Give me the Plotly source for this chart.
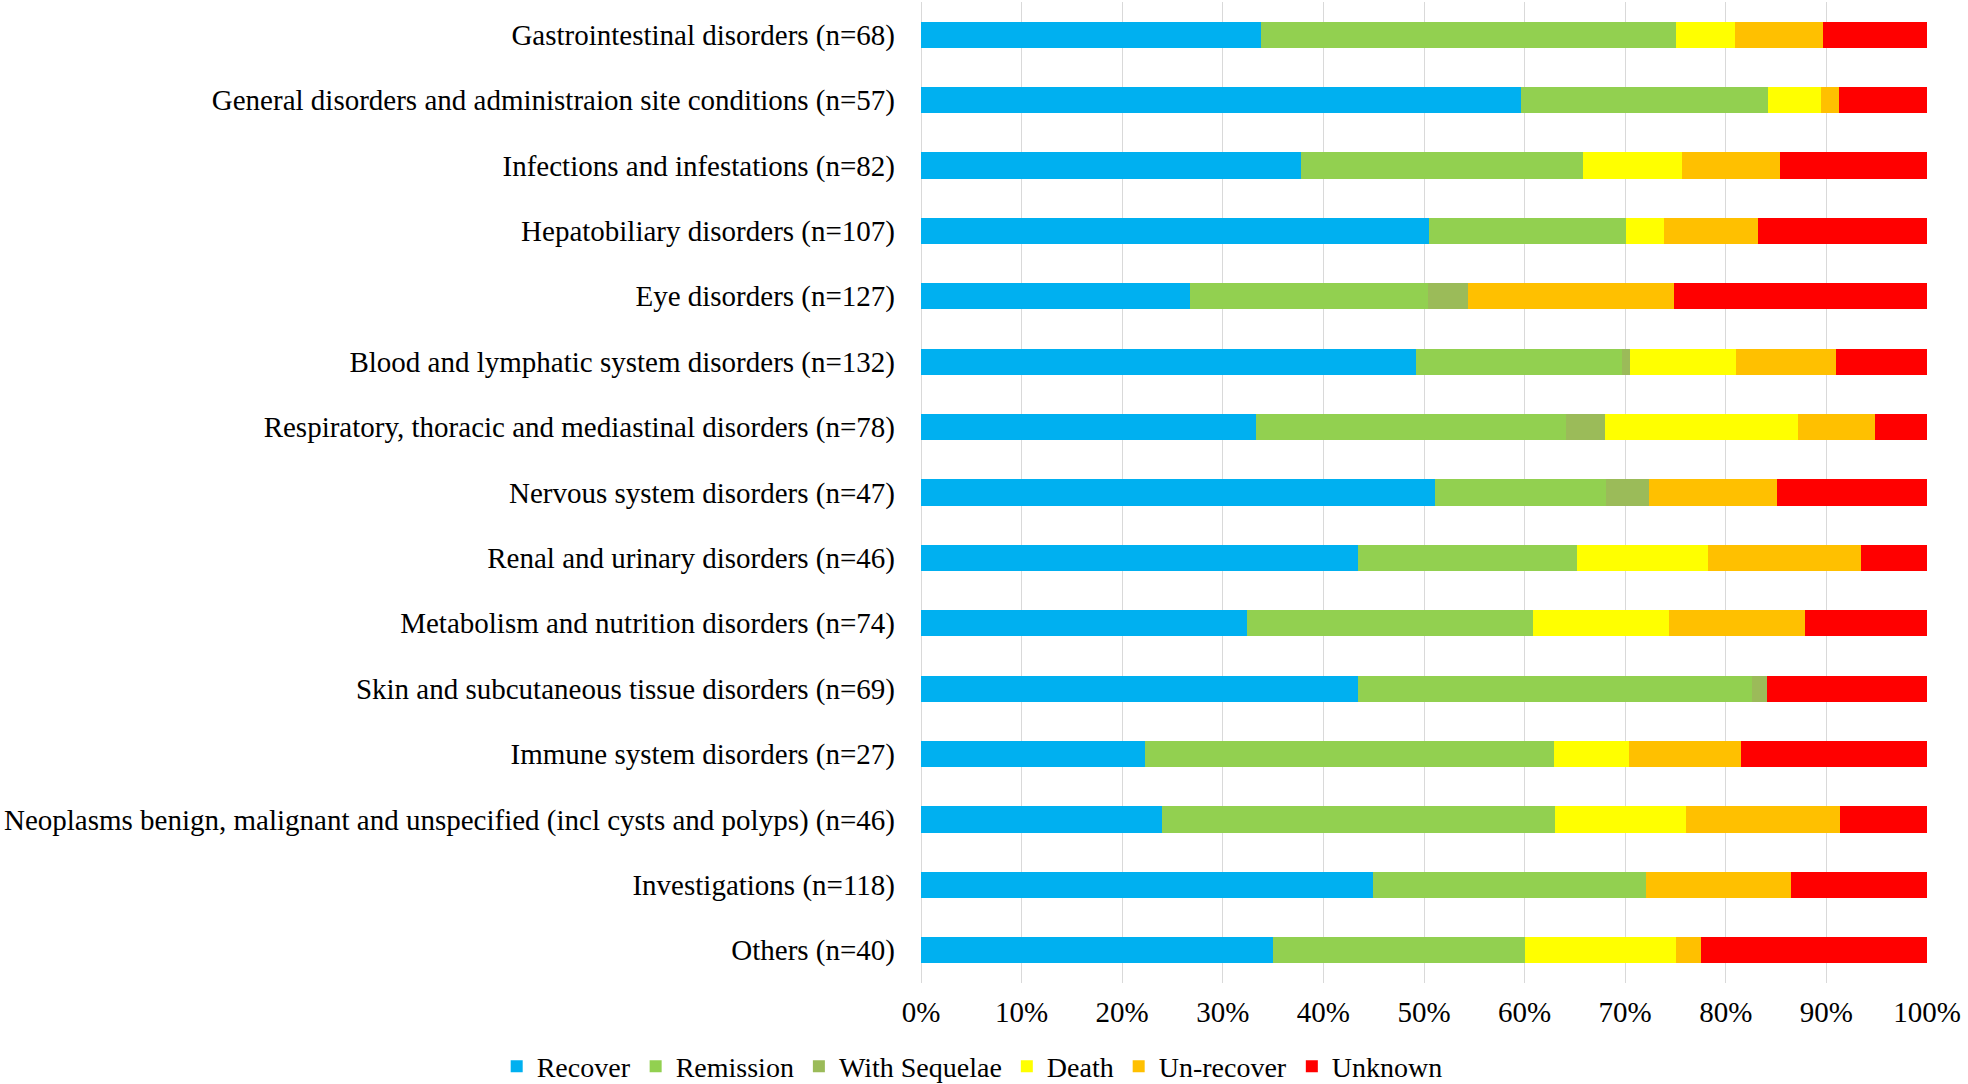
import plotly.graph_objects as go

categories = [
    "Gastrointestinal disorders (n=68)",
    "General disorders and administraion site conditions (n=57)",
    "Infections and infestations (n=82)",
    "Hepatobiliary disorders (n=107)",
    "Eye disorders (n=127)",
    "Blood and lymphatic system disorders (n=132)",
    "Respiratory, thoracic and mediastinal disorders (n=78)",
    "Nervous system disorders (n=47)",
    "Renal and urinary disorders (n=46)",
    "Metabolism and nutrition disorders (n=74)",
    "Skin and subcutaneous tissue disorders (n=69)",
    "Immune system disorders (n=27)",
    "Neoplasms benign, malignant and unspecified (incl cysts and polyps) (n=46)",
    "Investigations (n=118)",
    "Others (n=40)",
]

# case counts per outcome (bars normalised to 100%)
recover       = [23, 34, 31, 54, 34, 65, 26, 24, 20, 24, 30, 6, 11, 53, 14]
remission     = [28, 14, 23, 21, 30, 27, 24, 8, 10, 21, 27, 11, 18, 32, 10]
with_sequelae = [0, 0, 0, 0, 5, 1, 3, 2, 0, 0, 1, 0, 0, 0, 0]
death         = [4, 3, 8, 4, 0, 14, 15, 0, 6, 10, 0, 2, 6, 0, 6]
un_recover    = [6, 1, 8, 10, 26, 13, 6, 6, 7, 10, 0, 3, 7, 17, 1]
unknown       = [7, 5, 12, 18, 32, 12, 4, 7, 3, 9, 11, 5, 4, 16, 9]

series = [
    ("Recover", recover, "#00B0F0"),
    ("Remission", remission, "#92D050"),
    ("With Sequelae", with_sequelae, "#9BBB59"),
    ("Death", death, "#FFFF00"),
    ("Un-recover", un_recover, "#FFC000"),
    ("Unknown", unknown, "#FF0000"),
]

x_ticks = list(range(0, 101, 10))

FONT = "Liberation Serif, Times New Roman, serif"

fig = go.Figure()
for name, vals, color in series:
    fig.add_trace(go.Bar(
        y=categories, x=vals, name=name, orientation="h",
        marker=dict(color=color, line=dict(width=0)),
    ))

fig.update_layout(
    width=1968, height=1084,
    barmode="stack", barnorm="percent", bargap=0.6,
    paper_bgcolor="white", plot_bgcolor="white",
    font=dict(family=FONT, size=29, color="black"),
    margin=dict(l=921, r=41, t=2, b=101),
    legend=dict(
        orientation="h", xref="container", yref="container",
        x=0.494, xanchor="center", y=0.016, yanchor="middle",
        font=dict(family=FONT, size=28, color="black"),
        traceorder="normal", itemwidth=30,
    ),
    xaxis=dict(
        range=[0, 100], tickvals=x_ticks, ticktext=[f"{v}%" for v in x_ticks],
        showgrid=True, gridcolor="#d9d9d9", gridwidth=1.3,
        zeroline=True, zerolinecolor="#d9d9d9", zerolinewidth=1.3,
        showline=False, ticks="", ticklabelstandoff=9,
        fixedrange=True,
    ),
    yaxis=dict(
        autorange="reversed", showgrid=False, zeroline=False, showline=False,
        ticks="", ticklabelstandoff=25,
    ),
)

fig.write_html(
    "out.html",
    config={"displayModeBar": False},
    post_script="document.body.style.margin='0';document.body.style.overflow='hidden';",
)
